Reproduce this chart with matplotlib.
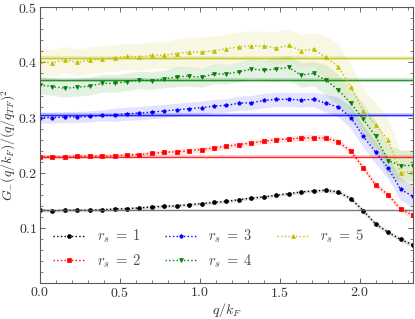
import numpy as np
import matplotlib
matplotlib.use("Agg")
import matplotlib.pyplot as plt
from matplotlib.ticker import AutoMinorLocator

plt.rcParams['font.family'] = 'cmr10'
plt.rcParams['mathtext.fontset'] = 'cm'
plt.rcParams['axes.formatter.use_mathtext'] = True
plt.rcParams['font.size'] = 10

# q/k_F grid
q = [0.000, 0.078, 0.156, 0.233, 0.311, 0.389, 0.467, 0.544, 0.622, 0.700,
     0.778, 0.855, 0.933, 1.011, 1.089, 1.166, 1.244, 1.322, 1.400, 1.477,
     1.555, 1.633, 1.711, 1.788, 1.866, 1.944, 2.022, 2.099, 2.177, 2.255, 2.333]

g_rs1 = [0.132, 0.131, 0.132, 0.132, 0.132, 0.133, 0.134, 0.135, 0.136, 0.138,
         0.139, 0.140, 0.142, 0.144, 0.146, 0.148, 0.151, 0.154, 0.156, 0.159,
         0.162, 0.165, 0.167, 0.168, 0.165, 0.153, 0.131, 0.107, 0.092, 0.079, 0.069]
g_rs2 = [0.229, 0.229, 0.228, 0.230, 0.230, 0.230, 0.231, 0.232, 0.233, 0.235,
         0.237, 0.238, 0.240, 0.242, 0.245, 0.248, 0.251, 0.254, 0.257, 0.260,
         0.261, 0.263, 0.263, 0.263, 0.256, 0.239, 0.209, 0.178, 0.160, 0.134, 0.123]
g_rs3 = [0.300, 0.300, 0.301, 0.301, 0.302, 0.304, 0.305, 0.307, 0.308, 0.310,
         0.312, 0.314, 0.316, 0.318, 0.321, 0.322, 0.326, 0.327, 0.331, 0.333,
         0.333, 0.332, 0.333, 0.326, 0.319, 0.300, 0.266, 0.237, 0.209, 0.170, 0.157]
g_rs4 = [0.359, 0.356, 0.353, 0.355, 0.357, 0.362, 0.362, 0.365, 0.368, 0.367,
         0.370, 0.374, 0.375, 0.373, 0.379, 0.379, 0.383, 0.388, 0.386, 0.388,
         0.391, 0.377, 0.380, 0.368, 0.350, 0.326, 0.297, 0.266, 0.222, 0.213, 0.213]
g_rs5 = [0.402, 0.399, 0.405, 0.400, 0.404, 0.406, 0.408, 0.411, 0.410, 0.413,
         0.413, 0.416, 0.419, 0.419, 0.421, 0.425, 0.428, 0.430, 0.430, 0.426,
         0.431, 0.421, 0.424, 0.409, 0.392, 0.356, 0.312, 0.287, 0.259, 0.200, 0.202]

# half widths of the shaded bands
err_rs1 = [0.003] * 23 + [0.004] * 8
err_rs2 = [0.004] * 11 + [0.005] * 10 + [0.006] * 10
err_rs3 = [0.010] * 6 + [0.012] * 10 + [0.013] * 7 + [0.016, 0.018] + [0.020] * 6
err_rs4 = [0.016] * 11 + [0.018] * 8 + [0.022] * 4 + [0.028] * 8
err_rs5 = [0.024] * 11 + [0.027] * 8 + [0.030] * 4 + [0.040] * 8

# large-q limits (horizontal lines)
limits = [0.132, 0.229, 0.305, 0.368, 0.408]
limit_err = [0.0, 0.003, 0.004, 0.004, 0.004]

series = [g_rs1, g_rs2, g_rs3, g_rs4, g_rs5]
errors = [err_rs1, err_rs2, err_rs3, err_rs4, err_rs5]
colors = ['k', 'r', 'b', 'g', 'y']
markers = ['o', 's', 'p', 'v', '^']
labels = [r'$r_s\;=\;1$', r'$r_s\;=\;2$', r'$r_s\;=\;3$', r'$r_s\;=\;4$', r'$r_s\;=\;5$']

fig = plt.figure(figsize=(4.15, 3.19), dpi=100)
ax = fig.add_axes([0.0964, 0.1129, 0.8988, 0.8643])

qa = np.array(q)
for y, e, c, m, lab, lim, le in zip(series, errors, colors, markers, labels, limits, limit_err):
    y = np.array(y)
    e = np.array(e)
    ax.fill_between(qa, y - e, y + e, color=c, alpha=0.11, lw=0)
    ax.plot(qa, y, ls=':', lw=1.0, color=c, marker=m, ms=2.8, mew=0.5, label=lab)
    hc = '0.35' if c == 'k' else c
    if le > 0:
        ax.axhspan(lim - le, lim + le, color=c, alpha=0.18, lw=0)
    ax.axhline(lim, color=hc, lw=1.0, alpha=0.8)

ax.set_xlim(0, 2.333)
ax.set_ylim(0.0, 0.5)
ax.set_yticks([0.1, 0.2, 0.3, 0.4, 0.5])
ax.set_xticks([0.0, 0.5, 1.0, 1.5, 2.0])
ax.xaxis.set_minor_locator(AutoMinorLocator(5))
ax.yaxis.set_minor_locator(AutoMinorLocator(5))
ax.tick_params(which='both', direction='in', top=True, right=True, colors='0.3',
               labelcolor='0.2', pad=2)
ax.tick_params(which='major', length=3.5, width=0.6)
ax.tick_params(which='minor', length=2, width=0.5)
for s in ax.spines.values():
    s.set_color('0.35')
    s.set_linewidth(0.8)

ax.set_xlabel(r'$q/k_F$', color='0.2', labelpad=1)
ax.set_ylabel(r'$G_{-}(q/k_F)/(q/q_{TF})^2$', color='0.2', labelpad=0, fontsize=9.8)

ax.legend(loc='lower left', ncol=3, frameon=False, handlelength=2.2,
          columnspacing=1.6, labelcolor='0.3', fontsize=10.5)

fig.savefig('out.png', dpi=100)
